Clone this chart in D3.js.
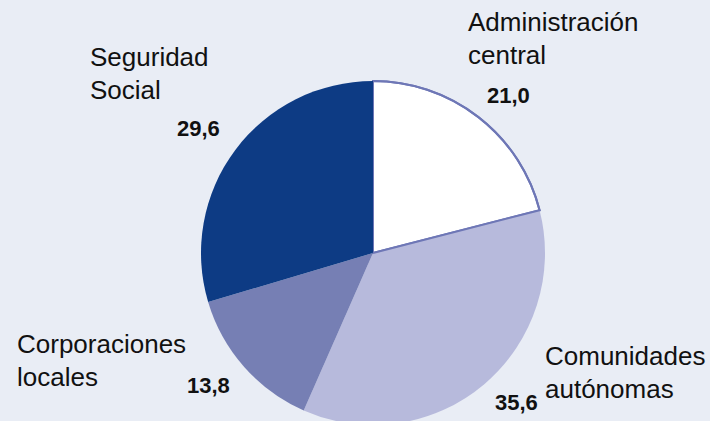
<!DOCTYPE html>
<html>
<head>
<meta charset="utf-8">
<script src="https://cdn.jsdelivr.net/npm/d3@7"></script>
<style>
  html, body { margin: 0; padding: 0; background: #e9edf5; }
  svg { display: block; }
</style>
</head>
<body>
<div id="chart"></div>
<script>
const w = 710
const h = 421

// Sectors, clockwise from 12 o'clock
const sectors = ["Administración central", "Comunidades autónomas", "Corporaciones locales", "Seguridad Social"]
const nameLines = [["Administración", "central"], ["Comunidades", "autónomas"], ["Corporaciones", "locales"], ["Seguridad", "Social"]]
const shares = [21.0, 35.6, 13.8, 29.6]
const shareLabels = ["21,0", "35,6", "13,8", "29,6"]

const colors = ["#ffffff", "#b7badc", "#767fb4", "#0d3b84"]

// label placement (name block top-left baseline, value baseline) relative to pie centre
const nameOffsets = [[95, -222], [172, 112], [-356, 100], [-283, -187]]
const valueOffsets = [[114, -150], [122, 157], [-186, 140], [-196, -117]]

const cx = 373
const cy = 253
const radius = 172

const svg = d3.select("#chart")
  .append("svg")
    .attr("width", w)
    .attr("height", h)

svg.append("rect")
  .attr("width", w)
  .attr("height", h)
  .attr("fill", "#e9edf5")

const pie = d3.pie().sort(null).value(d => d)
const arcs = pie(shares)

const arc = d3.arc().innerRadius(0).outerRadius(radius)

const g = svg.append("g")
  .attr("transform", `translate(${cx}, ${cy})`)

// white slice first with its outline, then the others on top
g.selectAll("path.slice")
  .data(arcs)
  .join("path")
    .attr("class", "slice")
    .attr("d", arc)
    .attr("fill", (d, i) => colors[i])
    .attr("stroke", (d, i) => i === 0 ? "#6e77b6" : "none")
    .attr("stroke-width", 2)

// redraw the outline of the white slice (outer arc + lower edge)
const a0 = arcs[0]
const outline = d3.path()
outline.moveTo(0, -radius)
outline.arc(0, 0, radius, -Math.PI / 2, a0.endAngle - Math.PI / 2)
outline.lineTo(0, 0)
g.append("path")
  .attr("d", outline.toString())
  .attr("fill", "none")
  .attr("stroke", "#6e77b6")
  .attr("stroke-width", 2)

// sector names
const names = svg.append("g")
  .attr("font-family", "'Liberation Sans', Arial, sans-serif")
  .attr("font-size", 26)
  .attr("fill", "#111")

nameLines.forEach((lines, i) => {
  const t = names.append("text")
    .attr("x", cx + nameOffsets[i][0])
    .attr("y", cy + nameOffsets[i][1])
  lines.forEach((line, j) => {
    t.append("tspan")
      .attr("x", cx + nameOffsets[i][0])
      .attr("dy", j === 0 ? 0 : 33)
      .text(line)
  })
})

// values
svg.append("g")
  .attr("font-family", "'Liberation Sans', Arial, sans-serif")
  .attr("font-size", 22)
  .attr("font-weight", "bold")
  .attr("fill", "#111")
  .selectAll("text")
  .data(shareLabels)
  .join("text")
    .attr("x", (d, i) => cx + valueOffsets[i][0])
    .attr("y", (d, i) => cy + valueOffsets[i][1])
    .text(d => d)
</script>
</body>
</html>
